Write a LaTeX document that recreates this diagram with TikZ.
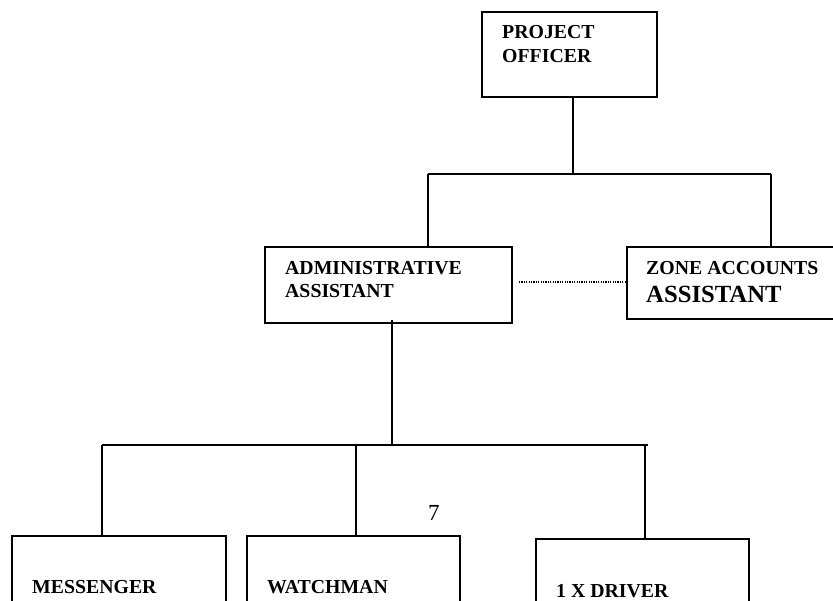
\documentclass[tikz,border=0pt]{standalone}
\usepackage{fontspec}
\setmainfont{Liberation Serif}
\usetikzlibrary{positioning}
\usetikzlibrary{calc}

\begin{document}
\begin{tikzpicture}
    [post/.style={draw, line width=1.9pt, inner sep=0pt},
    title/.style={anchor=base west, inner sep=0pt, font=\fontsize{19.8}{23.5}\selectfont\bfseries},
    bigtitle/.style={anchor=base west, inner sep=0pt, font=\fontsize{24.7}{28}\selectfont\bfseries},
    link/.style={line width=1.9pt},
    x=1pt, y=-1pt]
     \useasboundingbox (0,0) rectangle (833,601);
     %\draw[step=50pt,gray,very thin] (0,0) grid (833,601);
     \node[post, minimum width=175pt, minimum height=85pt] (po)  at (569.5, 54.5) {};
     \node[post, minimum width=247pt, minimum height=76pt] (adm) at (388.5, 285)  {};
     \node[post, minimum width=223pt, minimum height=72pt] (za)  at (738.5, 283)  {};
     \node[post, minimum width=214pt, minimum height=104pt] (msg) at (119, 588)   {};
     \node[post, minimum width=213pt, minimum height=104pt] (wat) at (353.5, 588) {};
     \node[post, minimum width=213pt, minimum height=101pt] (drv) at (642.5, 589.5) {};
     \node[title] (po1)  at (502, 39)  {PROJECT};
     \node[title] (po2)  at (502, 63)  {OFFICER};
     \node[title] (adm1) at (285, 275) {ADMINISTRATIVE};
     \node[title] (adm2) at (285, 298) {ASSISTANT};
     \node[title] (za1)  at (646, 275) {ZONE ACCOUNTS};
     \node[bigtitle] (za2) at (646, 303) {ASSISTANT};
     \node[title] (msg1) at (32, 593)  {MESSENGER};
     \node[title] (wat1) at (267, 593) {WATCHMAN};
     \node[title] (drv1) at (556, 597) {1 X DRIVER};
     \node[anchor=base west, inner sep=0pt, font=\fontsize{23}{27}\selectfont] (pg) at (428, 520) {7};
     \coordinate (top)  at (573, 174);
     \coordinate (topl) at (428, 174);
     \coordinate (topr) at (771, 174);
     \coordinate (mid)  at (392, 445);
     \coordinate (midl) at (102, 445);
     \coordinate (midc) at (356, 445);
     \coordinate (midr) at (648, 445);
     \draw[link] (po.south -| top) -- (top);
     \draw[link] (topl) -- (topr);
     \draw[link] (topl) -- (adm.north -| topl);
     \draw[link] (topr) -- (za.north -| topr);
     \draw[line width=1.3pt, dash pattern=on 1.2pt off 1.2pt] ([xshift=6pt, yshift=3pt]adm.east) -- ([yshift=1pt]za.west);
     \draw[link] ([yshift=4pt]adm.south -| mid) -- (mid);
     \draw[link] (midl) -- (midr);
     \draw[link] (midl) -- (msg.north -| midl);
     \draw[link] (midc) -- (wat.north -| midc);
     \draw[link] (midr -| 645,0) -- (drv.north -| 645,0);
\end{tikzpicture}
\end{document}
